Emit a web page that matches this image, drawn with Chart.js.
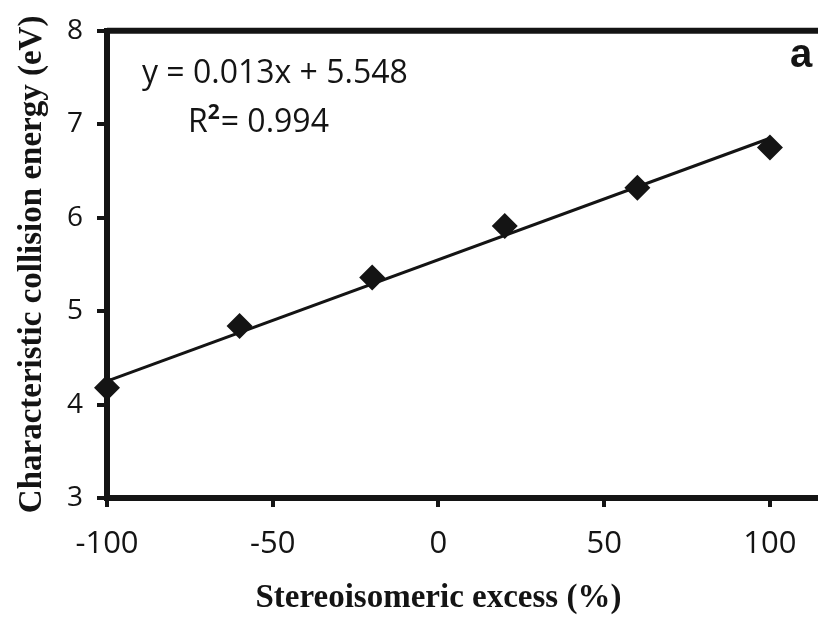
<!DOCTYPE html>
<html>
<head>
<meta charset="utf-8">
<script src="https://cdn.jsdelivr.net/npm/chart.js@4.4.1/dist/chart.umd.min.js"></script>
<style>
  html, body { margin: 0; padding: 0; background: #fff; }
  #c { display: block; }
</style>
</head>
<body>
<canvas id="c" width="818" height="621"></canvas>
<script>
// values
const excess = [-100, -60, -20, 20, 60, 100];
const energy = [4.18, 4.84, 5.36, 5.91, 6.32, 6.75];
// regression line end points
const fitX = [-100, 100];
const fitY = [4.25, 6.85];
const xTicks = [-100, -50, 0, 50, 100];
const yTicks = [3, 4, 5, 6, 7, 8];
const equationText = 'y = 0.013x + 5.548';
const r2Text = '= 0.994';
const xTitle = 'Stereoisomeric excess (%)';
const yTitle = 'Characteristic collision energy (eV)';

const ink = '#141414';

const annotations = {
  id: 'annotations',
  afterDraw(chart) {
    const ctx = chart.ctx;
    const area = chart.chartArea;
    const xs = chart.scales.x;
    ctx.save();

    // top frame line
    ctx.strokeStyle = ink;
    ctx.lineWidth = 6;
    ctx.beginPath();
    ctx.moveTo(area.left, area.top);
    ctx.lineTo(area.right, area.top);
    ctx.stroke();

    ctx.fillStyle = ink;
    ctx.textBaseline = 'alphabetic';
    ctx.textAlign = 'left';

    // equation
    ctx.font = '32px "Open Sans"';
    ctx.fillText(equationText, 142, 83);

    // R² line
    let x = 188;
    ctx.fillText('R', x, 132);
    x += ctx.measureText('R').width;
    ctx.font = 'bold 21px "Open Sans"';
    ctx.fillText('2', x, 119);
    x += ctx.measureText('2').width + 1;
    ctx.font = '32px "Open Sans"';
    ctx.fillText(r2Text, x, 132);

    // panel letter
    ctx.font = 'bold 40px "Liberation Sans"';
    ctx.fillText('a', 790, 67);

    // axis titles
    ctx.font = 'bold 33px "Liberation Serif"';
    ctx.textAlign = 'center';
    ctx.fillText(xTitle, xs.getPixelForValue(0), 607);

    ctx.translate(41, (area.top + area.bottom) / 2);
    ctx.rotate(-Math.PI / 2);
    ctx.fillText(yTitle, 0, 0);

    ctx.restore();
  }
};

new Chart(document.getElementById('c'), {
  type: 'scatter',
  data: {
    datasets: [
      {
        data: excess.map((v, i) => ({ x: v, y: energy[i] })),
        pointStyle: 'rectRot',
        pointRadius: 13,
        backgroundColor: ink,
        borderColor: ink,
        borderWidth: 0,
        showLine: false,
        clip: false,
        order: 1
      },
      {
        type: 'line',
        data: fitX.map((v, i) => ({ x: v, y: fitY[i] })),
        borderColor: ink,
        borderWidth: 3,
        pointRadius: 0,
        fill: false,
        clip: false,
        order: 2
      }
    ]
  },
  options: {
    responsive: false,
    devicePixelRatio: 1,
    animation: false,
    layout: { autoPadding: false, padding: { top: 26, right: 0, left: 0, bottom: 0 } },
    plugins: {
      legend: { display: false },
      tooltip: { enabled: false }
    },
    scales: {
      x: {
        type: 'linear',
        min: -100,
        max: 114.5,
        afterBuildTicks: s => { s.ticks = xTicks.map(v => ({ value: v })); },
        afterFit: s => { s.height = 621 - 498; },
        grid: { drawOnChartArea: false, drawTicks: true, tickLength: 9, lineWidth: 4, color: ink },
        border: { display: true, width: 6, color: ink },
        ticks: { font: { family: 'Open Sans', size: 31 }, color: ink, padding: 19, maxRotation: 0 }
      },
      y: {
        min: 3,
        max: 8,
        afterBuildTicks: s => { s.ticks = yTicks.map(v => ({ value: v })); },
        afterFit: s => { s.width = 107; },
        grid: { drawOnChartArea: false, drawTicks: true, tickLength: 10, lineWidth: 4, color: ink },
        border: { display: true, width: 6, color: ink },
        ticks: { font: { family: 'Open Sans', size: 28 }, color: ink, padding: 14 }
      }
    }
  },
  plugins: [annotations]
});
</script>
</body>
</html>
